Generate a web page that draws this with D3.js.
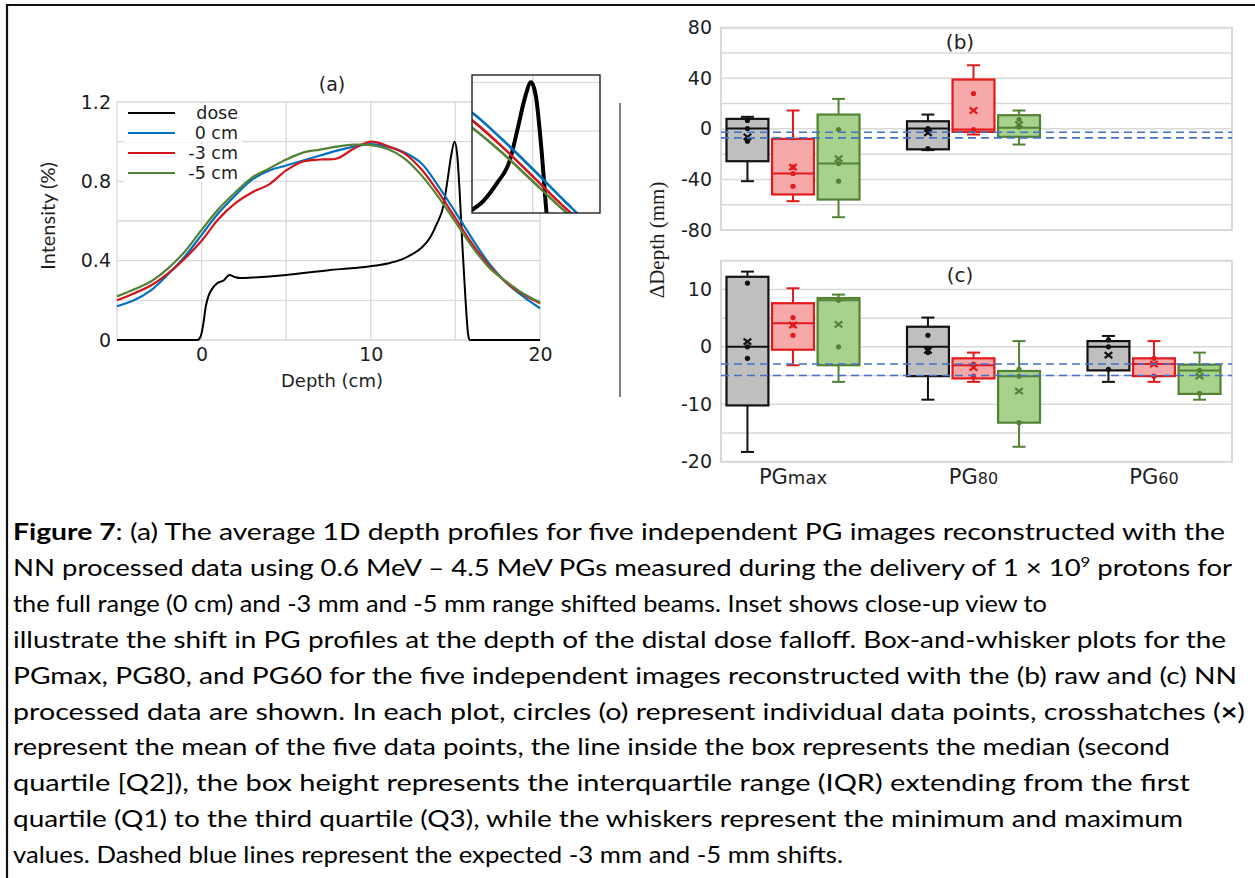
<!DOCTYPE html>
<meta charset="utf-8">
<script src="https://d3js.org/d3.v7.min.js"></script>
<style>
  body { margin: 0; background: #fff; }
  svg { display: block; }
</style>
<body>
<div id="fig"></div>
<script>
  // ---- (a) average 1D depth profiles ----
  var depthCm = [-5, -4, -3, -2, -1, 0, 1, 2, 3, 4, 5, 6, 7, 8, 9, 10, 11, 12, 13, 14, 15, 16, 17, 18, 19, 20];
  var pg0cm = [0.17, 0.20, 0.25, 0.33, 0.42, 0.53, 0.64, 0.73, 0.81, 0.855, 0.88, 0.905, 0.93, 0.955, 0.975, 0.988, 0.975, 0.945, 0.89, 0.775, 0.645, 0.51, 0.385, 0.29, 0.22, 0.16];
  var pg3cm = [0.20, 0.235, 0.275, 0.335, 0.41, 0.50, 0.61, 0.69, 0.745, 0.785, 0.855, 0.90, 0.91, 0.915, 0.965, 1.0, 0.978, 0.94, 0.86, 0.745, 0.615, 0.485, 0.375, 0.29, 0.23, 0.185];
  var pg5cm = [0.22, 0.255, 0.295, 0.36, 0.445, 0.555, 0.66, 0.745, 0.82, 0.865, 0.91, 0.945, 0.96, 0.975, 0.985, 0.983, 0.963, 0.915, 0.83, 0.72, 0.595, 0.47, 0.365, 0.295, 0.235, 0.19];
  var doseDepth = [-5, -0.25, -0.05, 0.1, 0.25, 0.4, 0.6, 0.9, 1.3, 1.65, 1.95, 2.3, 3, 5, 7.5, 9, 10, 11, 11.8, 12.4, 13, 13.5, 13.9, 14.3, 14.55, 14.75, 14.95, 15.1, 15.25, 15.42, 15.6, 15.75, 15.85, 20];
  var doseValue = [0, 0, 0.02, 0.08, 0.17, 0.22, 0.255, 0.285, 0.30, 0.328, 0.318, 0.312, 0.315, 0.328, 0.352, 0.363, 0.372, 0.386, 0.405, 0.43, 0.465, 0.515, 0.585, 0.68, 0.815, 0.93, 1.0, 0.94, 0.75, 0.465, 0.2, 0.03, 0, 0];

  // ---- (b), (c) box-and-whisker ----
  var categories = ["PGmax", "PG80", "PG60"];
  var shiftNames = ["0 cm", "-3 cm", "-5 cm"];
  // [category, shift index, min, q1, median, q3, max, mean]
  var statsRaw = [
    ["PGmax", 0, -41.4, -25.6, 0.2, 7.9, 9.5, -6.3],
    ["PGmax", 1, -57.2, -51.9, -35.3, -7.9, 14.5, -30.3],
    ["PGmax", 2, -69.9, -55.9, -27.4, 11.3, 23.7, -23.5],
    ["PG80", 0, -16.8, -16.2, 0.2, 6.0, 11.3, -3.2],
    ["PG80", 1, -4.5, -2.4, -0.6, 39.0, 50.3, 14.5],
    ["PG80", 2, -12.4, -6.3, 0.8, 10.8, 14.5, 3.4]
  ];
  var dotsRaw = [
    ["PGmax", 0, [6.6, 0.2, -9.8]],
    ["PGmax", 1, [-30.3, -35.3, -45.4]],
    ["PGmax", 2, [-0.6, -27.4, -41.4]],
    ["PG80", 0, [0.2, -15.6]],
    ["PG80", 1, [27.9, -0.6]],
    ["PG80", 2, [7.4, 1.5]]
  ];
  var refRaw = [-2.7, -7.1];   // dashed lines as drawn in (b)
  var statsNN = [
    ["PGmax", 0, -18.3, -10.2, 0.0, 12.2, 13.1, 0.9],
    ["PGmax", 1, -3.2, -0.5, 4.1, 7.6, 10.2, 3.8],
    ["PGmax", 2, -6.1, -3.2, 8.1, 8.5, 9.1, 3.9],
    ["PG80", 0, -9.2, -5.1, 0.0, 3.5, 5.1, -0.6],
    ["PG80", 1, -6.1, -5.5, -3.2, -2.0, -1.0, -3.6],
    ["PG80", 2, -17.4, -13.2, -5.1, -4.2, 1.0, -7.7],
    ["PG60", 0, -6.1, -4.1, 0.0, 1.0, 1.9, -1.45],
    ["PG60", 1, -6.1, -5.1, -3.0, -2.0, 1.0, -3.0],
    ["PG60", 2, -9.2, -8.2, -4.1, -3.1, -1.0, -5.1]
  ];
  var dotsNN = [
    ["PGmax", 0, [11.1, 0.0, -2.0]],
    ["PGmax", 1, [5.1, 3.8, 2.0]],
    ["PGmax", 2, [8.1, 0.0]],
    ["PG80", 0, [2.0, -0.4, -1.0]],
    ["PG80", 1, [-3.0, -5.1]],
    ["PG80", 2, [-3.9, -5.1, -13.2]],
    ["PG60", 0, [1.2, 0.0, -3.9]],
    ["PG60", 1, [-2.0, -5.1]],
    ["PG60", 2, [-4.1, -8.1]]
  ];
  var refNN = [-3, -5];

  // caption text, segments: [text, 1 = bold, 2 = superscript]
  var captionLines = [
    [["Figure 7", 1], [": (a) The average 1D depth profiles for five independent PG images reconstructed with the"]],
    [["NN processed data using 0.6 MeV \u2013 4.5 MeV PGs measured during the delivery of 1 \u00d7 10"], ["9", 2], [" protons for"]],
    [["the full range (0 cm) and -3 mm and -5 mm range shifted beams. Inset shows close-up view to"]],
    [["illustrate the shift in PG profiles at the depth of the distal dose falloff. Box-and-whisker plots for the"]],
    [["PGmax, PG80, and PG60 for the five independent images reconstructed with the (b) raw and (c) NN"]],
    [["processed data are shown. In each plot, circles (o) represent individual data points, crosshatches ("], ["\u00d7", 1], [")"]],
    [["represent the mean of the five data points, the line inside the box represents the median (second"]],
    [["quartile [Q2]), the box height represents the interquartile range (IQR) extending from the first"]],
    [["quartile (Q1) to the third quartile (Q3), while the whiskers represent the minimum and maximum"]],
    [["values. Dashed blue lines represent the expected -3 mm and -5 mm shifts."]]
  ];
  var captionEnds = [1225, 1232, 1047, 1226, 1237, 1245, 1170, 1190, 1183, 843];

  var gridColor = "#d9d9d9";
  var textColor = "#1e1e1e";
  var lineColors = ["#0070c0", "#d0161c", "#548235"];
  var boxFill = ["#bfbfbf", "#f7a8a8", "#a9d18e"];
  var boxStroke = ["#111111", "#e3191c", "#548235"];
  var plain = function (d) { return String(d); };   // hyphen minus, as in the figure

  var svg = d3.select("#fig").append("svg")
    .attr("width", 1255).attr("height", 878)
    .style("font-family", "DejaVu Sans");

  // figure frame (top and left only)
  svg.append("path").attr("d", "M7,878V5H1255")
    .attr("fill", "none").attr("stroke", "#111").attr("stroke-width", 2.2);

  // ================= panel (a) =================
  var xA = d3.scaleLinear().domain([-5, 20]).range([117, 540]);
  var yA = d3.scaleLinear().domain([0, 1.2]).range([340, 102]);
  var a = svg.append("g");

  a.selectAll("line.vg").data(d3.range(-5, 21, 5)).join("line")
    .attr("x1", function (d) { return xA(d); }).attr("x2", function (d) { return xA(d); })
    .attr("y1", yA(0)).attr("y2", yA(1.2))
    .attr("stroke", gridColor).attr("stroke-width", 1.3);
  a.selectAll("line.hg").data(yA.ticks(6)).join("line")
    .attr("x1", xA(-5)).attr("x2", xA(20))
    .attr("y1", function (d) { return yA(d); }).attr("y2", function (d) { return yA(d); })
    .attr("stroke", gridColor).attr("stroke-width", 1.3);

  a.append("g").attr("transform", "translate(0," + yA(0) + ")")
    .call(d3.axisBottom(xA).tickValues([0, 10, 20]).tickFormat(plain).tickSize(0).tickPadding(8))
    .call(function (g) { g.select(".domain").remove(); })
    .selectAll("text").attr("font-size", 19).attr("font-family", "DejaVu Sans").attr("fill", textColor);
  a.append("g").attr("transform", "translate(" + xA(-5) + ",0)")
    .call(d3.axisLeft(yA).tickValues([0, 0.4, 0.8, 1.2])
      .tickFormat(function (d) { return d === 0 ? "0" : d3.format(".1f")(d); })
      .tickSize(0).tickPadding(6))
    .call(function (g) { g.select(".domain").remove(); })
    .selectAll("text").attr("font-size", 19).attr("font-family", "DejaVu Sans").attr("fill", textColor);

  a.append("text").attr("x", 332).attr("y", 387).attr("text-anchor", "middle")
    .attr("font-size", 18).attr("fill", textColor).text("Depth (cm)");
  a.append("text").attr("transform", "translate(47,216) rotate(-90)")
    .attr("text-anchor", "middle").attr("dominant-baseline", "central")
    .attr("font-family", "Lato").attr("font-size", 20).attr("fill", textColor).text("Intensity (%)");
  a.append("text").attr("x", 332).attr("y", 91).attr("text-anchor", "middle")
    .attr("font-size", 19).attr("fill", textColor).text("(a)");

  var pgSeries = [pg0cm, pg3cm, pg5cm].map(function (v) {
    return depthCm.map(function (d, i) { return [d, v[i]]; });
  });
  var dosePts = doseDepth.map(function (d, i) { return [d, doseValue[i]]; });

  function drawProfiles(g, xs, ys, wDose, wPg) {
    var pgLine = d3.line().x(function (d) { return xs(d[0]); }).y(function (d) { return ys(d[1]); })
      .curve(d3.curveCatmullRom);
    var doseLine = d3.line().x(function (d) { return xs(d[0]); }).y(function (d) { return ys(d[1]); })
      .curve(d3.curveMonotoneX);
    g.append("path").datum(dosePts).attr("d", doseLine)
      .attr("fill", "none").attr("stroke", "#000").attr("stroke-width", wDose);
    g.selectAll("path.pg").data(pgSeries).join("path").attr("class", "pg")
      .attr("d", pgLine).attr("fill", "none")
      .attr("stroke", function (d, i) { return lineColors[i]; })
      .attr("stroke-width", wPg);
  }
  drawProfiles(a.append("g"), xA, yA, 2, 2.2);

  // legend
  var legNames = ["dose"].concat(shiftNames);
  var legColors = ["#000"].concat(lineColors);
  var leg = a.selectAll("g.leg").data(legNames).join("g")
    .attr("transform", function (d, i) { return "translate(0," + (113 + 20 * i) + ")"; });
  leg.append("rect").attr("x", 124).attr("y", -9).attr("width", 118).attr("height", 18).attr("fill", "#fff");
  leg.append("line").attr("x1", 128).attr("x2", 175)
    .attr("stroke", function (d, i) { return legColors[i]; }).attr("stroke-width", 2.2);
  leg.append("text").attr("x", 238).attr("text-anchor", "end").attr("dominant-baseline", "central")
    .attr("font-size", 17.5).attr("fill", textColor).text(function (d) { return d; });

  // inset: close-up of distal falloff
  var xI = d3.scaleLinear().domain([13.15, 17.05]).range([472, 600]);
  var yI = d3.scaleLinear().domain([0.465, 1.03]).range([213, 75]);
  svg.append("clipPath").attr("id", "insetClip").append("rect")
    .attr("x", 472).attr("y", 75).attr("width", 128).attr("height", 138);
  var ins = svg.append("g");
  ins.append("rect").attr("x", 472).attr("y", 75).attr("width", 128).attr("height", 138).attr("fill", "#fff");
  var insPlot = ins.append("g").attr("clip-path", "url(#insetClip)");
  insPlot.selectAll("line.ih").data([0.6, 0.8, 1.0]).join("line")
    .attr("x1", 472).attr("x2", 600)
    .attr("y1", function (d) { return yI(d); }).attr("y2", function (d) { return yI(d); })
    .attr("stroke", gridColor).attr("stroke-width", 1.3);
  insPlot.append("line").attr("x1", xI(15)).attr("x2", xI(15)).attr("y1", 75).attr("y2", 213)
    .attr("stroke", gridColor).attr("stroke-width", 1.3);
  drawProfiles(insPlot, xI, yI, 4, 2.6);
  ins.append("rect").attr("x", 472).attr("y", 75).attr("width", 128).attr("height", 138)
    .attr("fill", "none").attr("stroke", "#222").attr("stroke-width", 1.4);

  // separator
  svg.append("line").attr("x1", 620).attr("x2", 620).attr("y1", 103).attr("y2", 397)
    .attr("stroke", "#808080").attr("stroke-width", 2);

  // ================= panels (b) and (c) =================
  var panelL = 721, panelR = 1232;
  var xCat = d3.scalePoint().domain(categories).range([793, 1154]);
  var xSer = d3.scaleBand().domain([0, 1, 2]).range([-66.5, 66.5]).paddingInner(0.08);
  var bw = xSer.bandwidth();

  function drawBoxPanel(y, gridVals, tickVals, stats, dots, refs, tag) {
    var g = svg.append("g");
    var top = y.range()[1], bottom = y.range()[0];
    g.selectAll("line.grid").data(gridVals).join("line")
      .attr("x1", panelL).attr("x2", panelR)
      .attr("y1", function (d) { return y(d); }).attr("y2", function (d) { return y(d); })
      .attr("stroke", gridColor).attr("stroke-width", 1.5);
    g.append("rect").attr("x", panelL).attr("y", top)
      .attr("width", panelR - panelL).attr("height", bottom - top)
      .attr("fill", "none").attr("stroke", gridColor).attr("stroke-width", 2);
    g.append("g").attr("transform", "translate(" + panelL + ",0)")
      .call(d3.axisLeft(y).tickValues(tickVals).tickFormat(plain).tickSize(0).tickPadding(9))
      .call(function (s) { s.select(".domain").remove(); })
      .selectAll("text").attr("font-size", 19).attr("font-family", "DejaVu Sans").attr("fill", textColor);

    function cx(d) { return xCat(d[0]) + xSer(d[1]) + bw / 2; }

    var box = g.selectAll("g.box").data(stats).join("g").attr("class", "box");
    // whisker stem
    box.append("line")
      .attr("x1", cx).attr("x2", cx)
      .attr("y1", function (d) { return y(d[2]); }).attr("y2", function (d) { return y(d[6]); })
      .attr("stroke", function (d) { return boxStroke[d[1]]; }).attr("stroke-width", 2);
    // caps at min and max
    [2, 6].forEach(function (k) {
      box.append("line")
        .attr("x1", function (d) { return cx(d) - 6.5; }).attr("x2", function (d) { return cx(d) + 6.5; })
        .attr("y1", function (d) { return y(d[k]); }).attr("y2", function (d) { return y(d[k]); })
        .attr("stroke", function (d) { return boxStroke[d[1]]; }).attr("stroke-width", 2);
    });
    box.append("rect")
      .attr("x", function (d) { return cx(d) - bw / 2; }).attr("width", bw)
      .attr("y", function (d) { return y(d[5]); })
      .attr("height", function (d) { return y(d[3]) - y(d[5]); })
      .attr("fill", function (d) { return boxFill[d[1]]; })
      .attr("stroke", function (d) { return boxStroke[d[1]]; }).attr("stroke-width", 2.2);
    box.append("line")
      .attr("x1", function (d) { return cx(d) - bw / 2; }).attr("x2", function (d) { return cx(d) + bw / 2; })
      .attr("y1", function (d) { return y(d[4]); }).attr("y2", function (d) { return y(d[4]); })
      .attr("stroke", function (d) { return boxStroke[d[1]]; }).attr("stroke-width", 2);

    // individual points
    dots.forEach(function (row) {
      g.selectAll(null).data(row[2]).join("circle")
        .attr("cx", cx(row)).attr("cy", function (v) { return y(v); })
        .attr("r", 2.6).attr("fill", boxStroke[row[1]]);
    });
    // mean markers
    box.append("path")
      .attr("d", function (d) {
        var x0 = cx(d), y0 = y(d[7]), s = 3.8;
        return "M" + (x0 - s) + "," + (y0 - s * 0.8) + "L" + (x0 + s) + "," + (y0 + s * 0.8) +
          "M" + (x0 - s) + "," + (y0 + s * 0.8) + "L" + (x0 + s) + "," + (y0 - s * 0.8);
      })
      .attr("fill", "none").attr("stroke", function (d) { return boxStroke[d[1]]; }).attr("stroke-width", 2.2);

    // expected shifts
    g.selectAll("line.ref").data(refs).join("line")
      .attr("x1", panelL).attr("x2", panelR)
      .attr("y1", function (d) { return y(d); }).attr("y2", function (d) { return y(d); })
      .attr("stroke", "#4472c4").attr("stroke-width", 1.6).attr("stroke-dasharray", "8,5");

    g.append("text").attr("x", 960).attr("y", top + 21).attr("text-anchor", "middle")
      .attr("font-size", 20).attr("fill", textColor).text(tag);
    return g;
  }

  var yB = d3.scaleLinear().domain([-80, 80]).range([230, 27.7]);
  var yC = d3.scaleLinear().domain([-20, 15]).range([461.7, 260.7]);
  drawBoxPanel(yB, d3.range(-80, 81, 20), [-80, -40, 0, 40, 80], statsRaw, dotsRaw, refRaw, "(b)");
  drawBoxPanel(yC, d3.range(-20, 16, 5), [-20, -10, 0, 10], statsNN, dotsNN, refNN, "(c)");

  // category labels with small suffix
  var catText = svg.selectAll("text.cat").data(categories).join("text")
    .attr("x", function (d) { return xCat(d); }).attr("y", 484)
    .attr("text-anchor", "middle").attr("fill", textColor);
  catText.append("tspan").attr("font-size", 21).text(function (d) { return d.slice(0, 2); });
  catText.append("tspan").attr("font-size", function (d) { return d === "PGmax" ? 18 : 16; })
    .text(function (d) { return d.slice(2); });

  svg.append("text").attr("transform", "translate(657,240) rotate(-90)")
    .attr("text-anchor", "middle").attr("dominant-baseline", "central")
    .attr("font-family", "Liberation Serif").attr("font-size", 21).attr("fill", textColor)
    .text("\u0394Depth (mm)");

  // ================= caption =================
  var cap = svg.append("g").attr("font-family", "Lato").attr("font-size", 23).attr("fill", "#000");
  captionLines.forEach(function (segs, i) {
    var t = cap.append("text").attr("x", 13).attr("y", 540 + 35.9 * i)
      .attr("textLength", captionEnds[i] - 13).attr("lengthAdjust", "spacingAndGlyphs");
    var lift = 0;
    segs.forEach(function (s) {
      var ts = t.append("tspan").text(s[0]);
      if (s[1] === 1) ts.attr("font-weight", "bold");
      if (s[1] === 2) { ts.attr("font-size", 14).attr("dy", -9); lift = 9; }
      else if (lift) { ts.attr("dy", lift); lift = 0; }
    });
  });
</script>
</body>
